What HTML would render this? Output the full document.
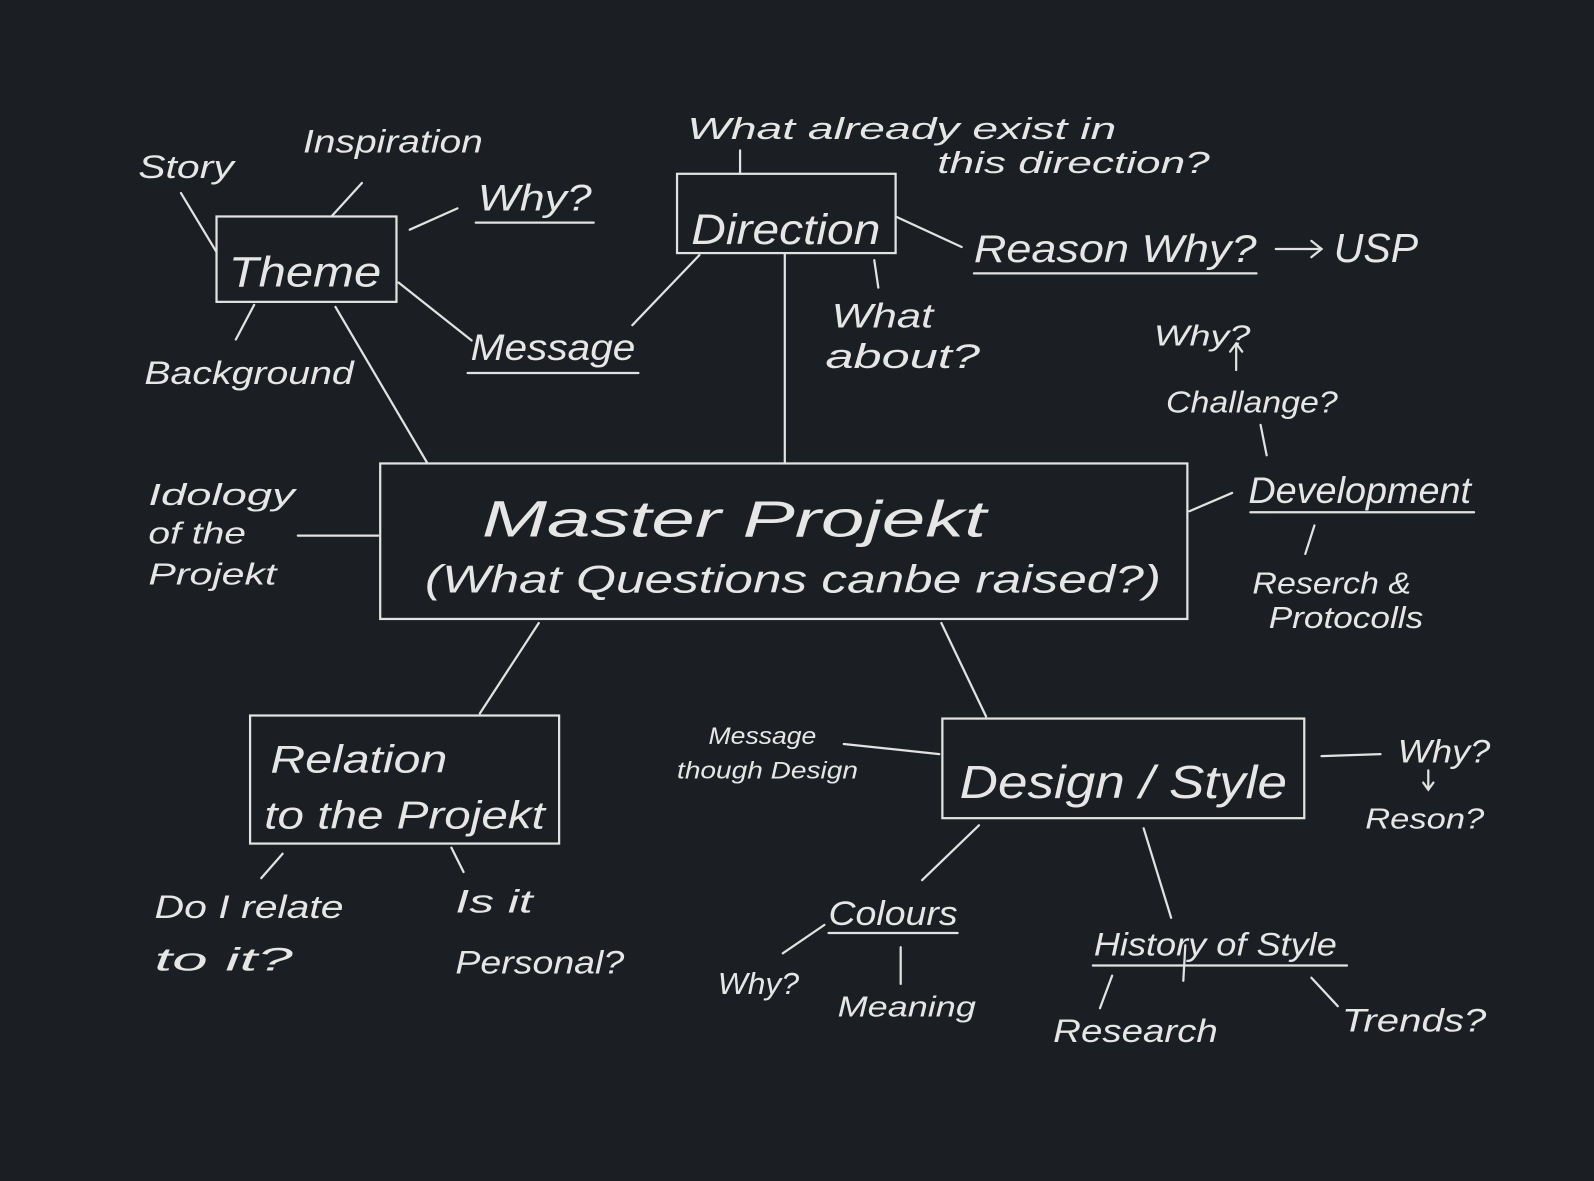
<!DOCTYPE html>
<html><head><meta charset="utf-8"><style>
html,body{margin:0;padding:0;background:#1b1f24;}
svg{display:block}
text{font-family:"Liberation Sans",sans-serif;fill:#e6e6e6;}
</style></head><body>
<svg width="1594" height="1181" viewBox="0 0 1568 1162" preserveAspectRatio="none" xmlns="http://www.w3.org/2000/svg">
<rect width="1568" height="1162" fill="#1b1f24"/>
<g stroke="#e2e2e2" stroke-width="2.2" fill="none" stroke-linecap="round">
<rect x="213" y="213" width="177" height="84"/>
<rect x="666" y="171" width="215" height="78"/>
<rect x="374" y="456" width="794" height="153"/>
<rect x="246" y="704" width="304" height="126"/>
<rect x="927" y="707" width="356" height="98"/>
<line x1="178" y1="190" x2="213" y2="248"/>
<line x1="326" y1="213" x2="356" y2="180"/>
<line x1="403" y1="226" x2="450" y2="205"/>
<line x1="250" y1="300" x2="232" y2="334"/>
<line x1="392" y1="278" x2="464" y2="335"/>
<line x1="330" y1="302" x2="420" y2="455"/>
<line x1="468" y1="219" x2="584" y2="219"/>
<line x1="460" y1="367" x2="628" y2="367"/>
<line x1="728" y1="148" x2="728" y2="171"/>
<line x1="622" y1="320" x2="688" y2="251"/>
<line x1="881" y1="213" x2="946" y2="243"/>
<line x1="860" y1="256" x2="864" y2="283"/>
<line x1="772" y1="250" x2="772" y2="455"/>
<line x1="958" y1="269" x2="1236" y2="269"/>
<line x1="293" y1="527" x2="372" y2="527"/>
<line x1="1170" y1="503" x2="1212" y2="485"/>
<line x1="1230" y1="504" x2="1450" y2="504"/>
<line x1="1240" y1="418" x2="1246" y2="448"/>
<line x1="1293" y1="517" x2="1284" y2="545"/>
<line x1="530" y1="613" x2="472" y2="702"/>
<line x1="926" y1="613" x2="970" y2="705"/>
<line x1="278" y1="840" x2="257" y2="864"/>
<line x1="444" y1="834" x2="456" y2="858"/>
<line x1="830" y1="732" x2="924" y2="742"/>
<line x1="1300" y1="744" x2="1358" y2="742"/>
<line x1="963" y1="812" x2="907" y2="866"/>
<line x1="1125" y1="815" x2="1152" y2="903"/>
<line x1="815" y1="918" x2="942" y2="918"/>
<line x1="811" y1="910" x2="770" y2="938"/>
<line x1="886" y1="932" x2="886" y2="968"/>
<line x1="1075" y1="950" x2="1325" y2="950"/>
<line x1="1094" y1="960" x2="1082" y2="992"/>
<line x1="1166" y1="930" x2="1164" y2="965"/>
<line x1="1290" y1="962" x2="1316" y2="990"/>
<line x1="1255" y1="245" x2="1300" y2="245"/>
<polyline points="1290,237 1300,245 1290,253"/>
<line x1="1216" y1="364" x2="1216" y2="338"/>
<polyline points="1210,346 1216,338 1222,346"/>
<line x1="1405" y1="758" x2="1405" y2="775"/>
<polyline points="1400,770 1405,777 1410,770"/>
</g>
<g font-style="italic" lengthAdjust="spacingAndGlyphs">
<text x="136" y="175" font-size="32" textLength="94" lengthAdjust="spacingAndGlyphs">Story</text>
<text x="298" y="150" font-size="32" textLength="177" lengthAdjust="spacingAndGlyphs">Inspiration</text>
<text x="470" y="207" font-size="36" textLength="112" lengthAdjust="spacingAndGlyphs">Why?</text>
<text x="225" y="282" font-size="42" textLength="150" lengthAdjust="spacingAndGlyphs">Theme</text>
<text x="142" y="378" font-size="32" textLength="206" lengthAdjust="spacingAndGlyphs">Background</text>
<text x="463" y="354" font-size="36" textLength="162" lengthAdjust="spacingAndGlyphs">Message</text>
<text x="676" y="137" font-size="30" textLength="422" lengthAdjust="spacingAndGlyphs">What already exist in</text>
<text x="922" y="170" font-size="30" textLength="268" lengthAdjust="spacingAndGlyphs">this direction?</text>
<text x="680" y="240" font-size="42" textLength="186" lengthAdjust="spacingAndGlyphs">Direction</text>
<text x="958" y="258" font-size="38" textLength="278" lengthAdjust="spacingAndGlyphs">Reason Why?</text>
<text x="1312" y="258" font-size="40" textLength="83" lengthAdjust="spacingAndGlyphs">USP</text>
<text x="818" y="322" font-size="34" textLength="100" lengthAdjust="spacingAndGlyphs">What</text>
<text x="812" y="362" font-size="34" textLength="152" lengthAdjust="spacingAndGlyphs">about?</text>
<text x="1135" y="340" font-size="28" textLength="95" lengthAdjust="spacingAndGlyphs">Why?</text>
<text x="1147" y="406" font-size="30" textLength="169" lengthAdjust="spacingAndGlyphs">Challange?</text>
<text x="1228" y="495" font-size="36" textLength="219" lengthAdjust="spacingAndGlyphs">Development</text>
<text x="1232" y="584" font-size="30" textLength="156" lengthAdjust="spacingAndGlyphs">Reserch &amp;</text>
<text x="1248" y="618" font-size="30" textLength="152" lengthAdjust="spacingAndGlyphs">Protocolls</text>
<text x="146" y="497" font-size="30" textLength="144" lengthAdjust="spacingAndGlyphs">Idology</text>
<text x="146" y="535" font-size="30" textLength="96" lengthAdjust="spacingAndGlyphs">of the</text>
<text x="146" y="575" font-size="30" textLength="126" lengthAdjust="spacingAndGlyphs">Projekt</text>
<text x="474" y="528" font-size="50" textLength="496" lengthAdjust="spacingAndGlyphs">Master   Projekt</text>
<text x="418" y="583" font-size="38" textLength="724" lengthAdjust="spacingAndGlyphs">(What Questions canbe raised?)</text>
<text x="266" y="760" font-size="38" textLength="174" lengthAdjust="spacingAndGlyphs">Relation</text>
<text x="260" y="815" font-size="38" textLength="276" lengthAdjust="spacingAndGlyphs">to the Projekt</text>
<text x="152" y="903" font-size="32" textLength="186" lengthAdjust="spacingAndGlyphs">Do I relate</text>
<text x="152" y="955" font-size="32" textLength="136" lengthAdjust="spacingAndGlyphs">to it?</text>
<text x="448" y="898" font-size="32" textLength="76" lengthAdjust="spacingAndGlyphs">Is it</text>
<text x="448" y="958" font-size="32" textLength="166" lengthAdjust="spacingAndGlyphs">Personal?</text>
<text x="697" y="732" font-size="24" textLength="106" lengthAdjust="spacingAndGlyphs">Message</text>
<text x="666" y="766" font-size="24" textLength="178" lengthAdjust="spacingAndGlyphs">though Design</text>
<text x="944" y="785" font-size="46" textLength="322" lengthAdjust="spacingAndGlyphs">Design / Style</text>
<text x="1375" y="750" font-size="32" textLength="91" lengthAdjust="spacingAndGlyphs">Why?</text>
<text x="1343" y="815" font-size="28" textLength="117" lengthAdjust="spacingAndGlyphs">Reson?</text>
<text x="815" y="910" font-size="34" textLength="127" lengthAdjust="spacingAndGlyphs">Colours</text>
<text x="706" y="978" font-size="30" textLength="80" lengthAdjust="spacingAndGlyphs">Why?</text>
<text x="824" y="1000" font-size="28" textLength="136" lengthAdjust="spacingAndGlyphs">Meaning</text>
<text x="1076" y="940" font-size="32" textLength="239" lengthAdjust="spacingAndGlyphs">History of Style</text>
<text x="1036" y="1025" font-size="32" textLength="162" lengthAdjust="spacingAndGlyphs">Research</text>
<text x="1320" y="1015" font-size="32" textLength="142" lengthAdjust="spacingAndGlyphs">Trends?</text>
</g>
</svg>
</body></html>
